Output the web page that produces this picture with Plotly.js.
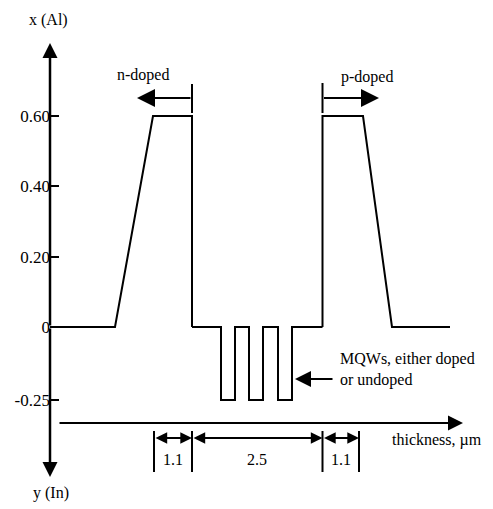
<!DOCTYPE html>
<html>
<head>
<meta charset="utf-8">
<script src="https://cdn.plot.ly/plotly-3.0.1.min.js"></script>
<style>html,body{margin:0;padding:0;background:#fff;}#chart{width:493px;height:509px;}
#chart text{font-family:"Liberation Serif","DejaVu Serif",serif !important;}</style>
</head>
<body>
<div id="chart"></div>
<script>
// ---- data (schematic thickness positions, a.u.) ----
// Al fraction x(Al) : n-side cladding and p-side cladding
const alPosN = [5.0, 11.5, 15.3, 19.2, 19.2];
const alValN = [0, 0, 0.6, 0.6, 0];
const alPosP = [32.25, 32.25, 36.3, 39.2, 45.0];
const alValP = [0, 0.6, 0.6, 0, 0];
// In fraction y(In) : multiple quantum wells in the active region
const inPos = [19.2, 22.1, 22.1, 23.5, 23.5, 24.9, 24.9, 26.3, 26.3, 27.8, 27.8, 29.2, 29.2, 32.25];
const inVal = [0, 0, -0.25, -0.25, 0, 0, -0.25, -0.25, 0, 0, -0.25, -0.25, 0, 0];
// axis ticks
const alTickVals = [0, 0.2, 0.4, 0.6];
const alTickText = ["0", "0.20", "0.40", "0.60"];
const inTickVals = [-0.25];
const inTickText = ["-0.25"];
// layer-thickness dimension markers
const dimEdges = [15.4, 19.2, 32.25, 35.9];
const dimLabels = ["1.1", "2.5", "1.1"];

// ---- pixel helpers for layout placement ----
const W = 493, H = 509, ZERO = 327, AL_PX = 351.67, IN_PX = 292, XPX = 10;
const alY = px => (ZERO - px) / AL_PX;
const inY = px => -(px - ZERO) / IN_PX;
const xU = px => px / XPX;

const FAMILY = "Liberation Serif, DejaVu Serif, serif";
const FONT = {family: FAMILY, size: 16, color: "#000"};
const TICKFONT = {family: FAMILY, size: 17, color: "#000"};
const LINE = {color: "#000", width: 2};

const traces = [
  {x: alPosN, y: alValN, xaxis: "x", yaxis: "y", mode: "lines", line: LINE, hoverinfo: "skip"},
  {x: alPosP, y: alValP, xaxis: "x", yaxis: "y", mode: "lines", line: LINE, hoverinfo: "skip"},
  {x: inPos, y: inVal, xaxis: "x", yaxis: "y2", mode: "lines", line: LINE, hoverinfo: "skip"}
];

const AXX = xU(50);
const ann = [];
function arrow(x, y, ax, ay, yref, extra) {
  return Object.assign({x: x, y: y, ax: ax, ay: ay, xref: "x", yref: yref, axref: "x", ayref: yref,
    text: "", showarrow: true, arrowhead: 2, arrowsize: 1.2, arrowwidth: 2, arrowcolor: "#000", standoff: 0, startstandoff: 0}, extra || {});
}
function label(text, x, y, yref, extra) {
  return Object.assign({x: x, y: y, xref: "x", yref: yref, text: text, showarrow: false, font: FONT}, extra || {});
}
// y axis double arrow
ann.push(arrow(AXX, alY(43), AXX, 0, "y", {arrowwidth: 2.5}));
ann.push(arrow(AXX, inY(477), AXX, 0, "y2", {arrowwidth: 2.5}));
// thickness axis arrow
ann.push(arrow(xU(463), inY(423), xU(58), inY(423), "y2", {arrowwidth: 2, arrowsize: 1.5}));
// doping arrows
ann.push(arrow(xU(137), alY(98), alPosN[3], alY(98), "y", {arrowsize: 1.8}));
ann.push(arrow(xU(379), alY(98), alPosP[0], alY(98), "y", {arrowsize: 1.8}));
// MQW pointer
ann.push(arrow(xU(295), inY(379), xU(334), inY(379), "y2", {arrowsize: 1.6}));
// dimension arrows
for (let i = 0; i < dimLabels.length; i++) {
  ann.push(arrow(dimEdges[i + 1], inY(438), dimEdges[i], inY(438), "y2",
    {arrowside: "end+start", startarrowhead: 2, startarrowsize: 1.3, arrowsize: 1.3, arrowwidth: 1.8}));
  ann.push(label(dimLabels[i], (dimEdges[i] + dimEdges[i + 1]) / 2, inY(459), "y2"));
}
// texts
ann.push(label("x (Al)", xU(48), alY(20), "y"));
ann.push(label("y (In)", xU(51), inY(493), "y2"));
ann.push(label("n-doped", xU(143), alY(75), "y"));
ann.push(label("p-doped", xU(367), alY(77), "y"));
ann.push(label("thickness, µm", xU(390), inY(440), "y2", {xanchor: "left"}));
ann.push(label("MQWs, either doped<br>or undoped", xU(338), inY(369), "y2", {xanchor: "left", align: "left"}));

const shapes = [];
// doping boundary bars
shapes.push({type: "line", xref: "x", yref: "y", x0: alPosN[3], x1: alPosN[3], y0: alY(84), y1: alY(113), line: LINE});
shapes.push({type: "line", xref: "x", yref: "y", x0: alPosP[0], x1: alPosP[0], y0: alY(83), y1: alY(113), line: LINE});
// dimension bars
dimEdges.forEach(e => shapes.push({type: "line", xref: "x", yref: "y2", x0: e, x1: e, y0: inY(431), y1: inY(472), line: LINE}));

const layout = {
  width: W, height: H,
  margin: {l: 0, r: 0, t: 0, b: 0, pad: 0},
  paper_bgcolor: "#fff", plot_bgcolor: "rgba(0,0,0,0)",
  showlegend: false,
  font: FONT,
  xaxis: {range: [0, W / XPX], visible: false, fixedrange: true},
  yaxis: {domain: [(H - 333) / H, 1], range: [alY(333), alY(0)], anchor: "free", position: 50 / W,
    showgrid: false, zeroline: false, showline: false, ticks: "inside", ticklen: 8, tickwidth: 2, tickcolor: "#000",
    tickvals: alTickVals, ticktext: alTickText, tickfont: TICKFONT, automargin: false, fixedrange: true},
  yaxis2: {domain: [0, (H - 321) / H], range: [inY(H), inY(321)], anchor: "free", position: 50 / W,
    showgrid: false, zeroline: false, showline: false, ticks: "inside", ticklen: 8, tickwidth: 2, tickcolor: "#000",
    tickvals: inTickVals, ticktext: inTickText, tickfont: TICKFONT, automargin: false, fixedrange: true},
  annotations: ann,
  shapes: shapes
};
Plotly.newPlot("chart", traces, layout, {displayModeBar: false, staticPlot: true});
</script>
</body>
</html>
